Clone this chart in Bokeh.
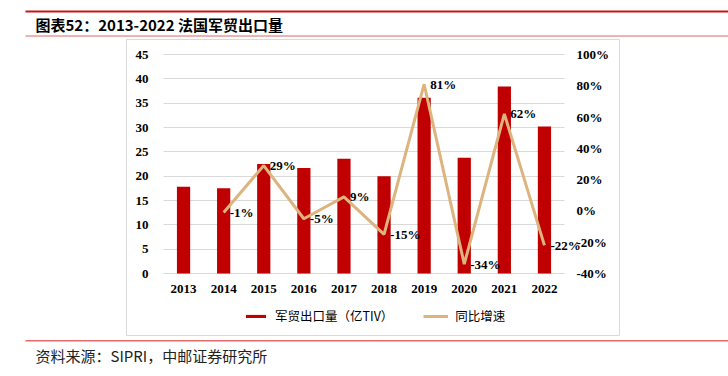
from bokeh.plotting import figure
from bokeh.models import (ColumnDataSource, Range1d, LinearAxis, FixedTicker, LabelSet,
                          Label, BoxAnnotation, Legend, LegendItem, PrintfTickFormatter)
from bokeh.embed import file_html
from bokeh.resources import INLINE

# ---- data ----
years = ["2013", "2014", "2015", "2016", "2017", "2018", "2019", "2020", "2021", "2022"]
exports = [17.8, 17.5, 22.5, 21.7, 23.6, 20.0, 36.1, 23.8, 38.4, 30.2]
growth_years = ["2014", "2015", "2016", "2017", "2018", "2019", "2020", "2021", "2022"]
growth = [-1, 29, -5, 9, -15, 81, -34, 62, -22]
left_ticks = [0, 5, 10, 15, 20, 25, 30, 35, 40, 45]
right_ticks = [-40, -20, 0, 20, 40, 60, 80, 100]
title_text = "图表52：2013-2022 法国军贸出口量"
bar_name = "军贸出口量（亿TIV）"
line_name = "同比增速"
source_text = "资料来源：SIPRI，中邮证券研究所"

BAR = "#C00000"
LINE = "#DDB47E"
GRID = "#D9D9D9"
NUM_FONT = "Liberation Serif"
CJK = "Noto Sans CJK SC"

W, H = 728, 376
# page-pixel layout of the plotting area
PL, PR, PT, PB = 163, 564, 54, 273
STEP = (PR - PL) / len(years)
CX0 = PL + STEP / 2
LMAX = left_ticks[-1]
RMIN, RMAX = right_ticks[0], right_ticks[-1]
PXU = (PB - PT) / LMAX
PXP = (PB - PT) / (RMAX - RMIN)

def xd(X):
    return (X - CX0) / STEP
def yd(Y):
    return (PB - Y) / PXU

x_idx = list(range(len(years)))
gx_idx = [years.index(y) for y in growth_years]

p = figure(width=W, height=H,
           x_range=Range1d(xd(0), xd(W)), y_range=Range1d(yd(H), yd(0)),
           output_backend="svg", toolbar_location=None,
           min_border=0, min_border_left=0, min_border_right=0, min_border_top=0, min_border_bottom=0)
p.extra_y_ranges = {"pct": Range1d(RMIN - (H - PB) / PXP, RMAX + PT / PXP)}
p.outline_line_color = None
p.background_fill_color = "white"
p.border_fill_color = "white"
p.xgrid.grid_line_color = None
p.ygrid.grid_line_color = GRID
p.ygrid.grid_line_width = 1
p.ygrid.ticker = FixedTicker(ticks=left_ticks)
p.ygrid.bounds = (0, LMAX)
try:
    p.ygrid.cross_bounds = (xd(PL), xd(PR))
except AttributeError:
    p.ygrid.grid_line_color = None
    p.segment(x0=[xd(PL)] * len(left_ticks), x1=[xd(PR)] * len(left_ticks),
              y0=left_ticks, y1=left_ticks, line_color=GRID, line_width=1, level="underlay")

# chart frame box
p.add_layout(BoxAnnotation(left=xd(126), right=xd(619), top=yd(39), bottom=yd(335),
                           fill_alpha=0, line_color=GRID, line_alpha=1, line_width=1, level="underlay"))
# red rules
p.add_layout(BoxAnnotation(left=xd(25), right=xd(W), top=yd(10), bottom=yd(12),
                           fill_color="#C8161D", fill_alpha=1, line_alpha=0))
p.add_layout(BoxAnnotation(left=xd(25), right=xd(W), top=yd(35), bottom=yd(36),
                           fill_color="#E06666", fill_alpha=1, line_alpha=0))
p.add_layout(BoxAnnotation(left=xd(25), right=xd(W), top=yd(339.5), bottom=yd(341),
                           fill_color="#E46C6C", fill_alpha=1, line_alpha=0))

bar_src = ColumnDataSource(dict(x=x_idx, top=exports))
bars = p.vbar(x="x", top="top", width=0.33, source=bar_src, fill_color=BAR, line_color=None)

line_src = ColumnDataSource(dict(x=gx_idx, y=growth, t=[f"{g}%" for g in growth]))
ln = p.line(x="x", y="y", source=line_src, y_range_name="pct", line_color=LINE, line_width=3)

labels = LabelSet(x="x", y="y", text="t", source=line_src, y_range_name="pct",
                  x_offset=6, y_offset=0, text_align="left", text_baseline="middle",
                  text_font=NUM_FONT, text_font_style="bold", text_font_size="13px",
                  text_color="black")
p.add_layout(labels)

def style_axis(ax, standoff):
    ax.axis_line_color = None
    ax.major_tick_line_color = None
    ax.minor_tick_line_color = None
    ax.major_tick_out = 0
    ax.major_tick_in = 0
    ax.major_label_standoff = standoff
    ax.major_label_text_font = NUM_FONT
    ax.major_label_text_font_style = "bold"
    ax.major_label_text_font_size = "13px"
    ax.major_label_text_color = "black"

p.yaxis.ticker = FixedTicker(ticks=left_ticks)
p.yaxis.fixed_location = xd(PL)
style_axis(p.yaxis[0], 15)

p.xaxis.ticker = FixedTicker(ticks=x_idx)
p.xaxis.major_label_overrides = {i: y for i, y in zip(x_idx, years)}
p.xaxis.fixed_location = 0
style_axis(p.xaxis[0], 11)

rax = LinearAxis(y_range_name="pct", ticker=FixedTicker(ticks=right_ticks),
                 formatter=PrintfTickFormatter(format="%d%%"), fixed_location=xd(PR))
style_axis(rax, 12)
p.add_layout(rax, "right")

p.add_layout(Label(x=xd(35), y=yd(24), text=title_text,
                   text_font=CJK, text_font_style="bold", text_font_size="15px",
                   text_baseline="middle", text_align="left", text_color="black"))
p.add_layout(Label(x=xd(35), y=yd(355), text=source_text,
                   text_font=CJK, text_font_size="15px",
                   text_baseline="middle", text_align="left", text_color="#222222"))

legend = Legend(items=[LegendItem(label=bar_name, renderers=[bars]),
                       LegendItem(label=line_name, renderers=[ln])],
                orientation="horizontal", location=(243, H - 325),
                glyph_width=25, glyph_height=4, label_height=14, label_standoff=7,
                spacing=30, padding=0, margin=0, border_line_color=None,
                background_fill_alpha=0, label_text_font=CJK, label_text_font_size="12.5px",
                label_text_color="black")
p.add_layout(legend)

open("out.html", "w").write(file_html(p, INLINE))
